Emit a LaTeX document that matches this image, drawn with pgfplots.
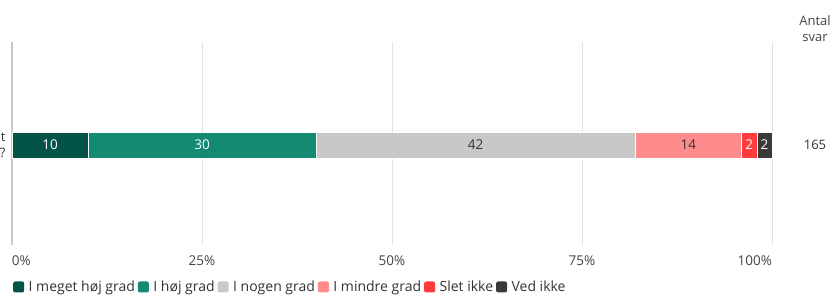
\documentclass[border=0pt]{standalone}
\usepackage{pgfplots}
\pgfplotsset{compat=1.18}
\usepackage{fontspec}
\setmainfont{Open Sans}
\definecolor{c1}{HTML}{035446}
\definecolor{c2}{HTML}{138A72}
\definecolor{c3}{HTML}{C8C8C8}
\definecolor{c4}{HTML}{FF8C8C}
\definecolor{c5}{HTML}{FF3B3B}
\definecolor{c6}{HTML}{3A3A3A}
\definecolor{txt}{HTML}{333333}
\definecolor{tick}{HTML}{444444}
\definecolor{gridc}{HTML}{E2E2E2}
\begin{document}
\begin{tikzpicture}[font=\fontsize{12pt}{14pt}\selectfont]
\pgfplotsset{base/.style={
  scale only axis, width=760pt, height=203pt,
  xmin=0, xmax=100, ymin=-1, ymax=1.03,
  clip=false,
  /pgf/number format/assume math mode=true,
}}
\begin{axis}[base,
  xbar stacked, bar width=26pt,
  axis lines*=left,
  x axis line style={draw=none},
  y axis line style={draw=c3, line width=1.5pt, -},
  xtick={0,25,50,75,100},
  xticklabels={\makebox[0pt][l]{0\%},25\%,50\%,75\%,\makebox[0pt][r]{100\%}},
  xticklabel style={text=tick, yshift=-7pt, font=\fontsize{13.5pt}{15pt}\selectfont},
  xmajorgrids, grid style={draw=gridc, line width=0.8pt},
  major tick length=0pt,
  ytick={0},
  yticklabels={{t\\?}},
  yticklabel style={align=right, text=txt, xshift=-3pt, font=\fontsize{13pt}{16pt}\selectfont},
  legend columns=-1,
  legend style={at={(axis description cs:0,0)}, anchor=west, xshift=-2pt, yshift=-42pt,
    draw=none, fill=none, font=\fontsize{14pt}{16pt}\selectfont, text=txt,
    /tikz/every even column/.append style={column sep=1pt},
    /tikz/every odd column/.append style={column sep=2.5pt}},
  legend image code/.code={\draw[#1, draw=none, rounded corners=2pt] (0pt,-5.5pt) rectangle (11pt,5.5pt);},
]
\addplot[fill=c1, draw=white, line width=0.5pt] coordinates {(10,0)};
\addplot[fill=c2, draw=white, line width=0.5pt] coordinates {(30,0)};
\addplot[fill=c3, draw=white, line width=0.5pt] coordinates {(42,0)};
\addplot[fill=c4, draw=white, line width=0.5pt] coordinates {(14,0)};
\addplot[fill=c5, draw=white, line width=0.5pt] coordinates {(2,0)};
\addplot[fill=c6, draw=white, line width=0.5pt] coordinates {(2,0)};
\legend{I meget høj grad,I høj grad,I nogen grad,I mindre grad,Slet ikke,Ved ikke}
\node[text=txt, align=center, font=\fontsize{13pt}{15pt}\selectfont] at (axis cs:100,0) [xshift=43pt] {165};
\node[text=tick, align=center, font=\fontsize{13pt}{16pt}\selectfont] at (axis cs:100,1.03) [xshift=43pt, yshift=13pt] {Antal\\svar};
\end{axis}
\begin{axis}[base, axis lines=none, ticks=none]
\addplot[only marks, mark=none, nodes near coords, point meta=explicit symbolic,
  every node near coord/.append style={anchor=center, text=white, font=\fontsize{13.5pt}{15pt}\selectfont}]
  table[meta=lab] {
x y lab
5 0 10
25 0 30
97 0 2
99 0 2
};
\addplot[only marks, mark=none, nodes near coords, point meta=explicit symbolic,
  every node near coord/.append style={anchor=center, text=txt, font=\fontsize{13.5pt}{15pt}\selectfont}]
  table[meta=lab] {
x y lab
61 0 42
89 0 14
};
\end{axis}
\pgfresetboundingbox
\path (-12pt,-51pt) rectangle (823pt,245pt);
\end{tikzpicture}
\end{document}
